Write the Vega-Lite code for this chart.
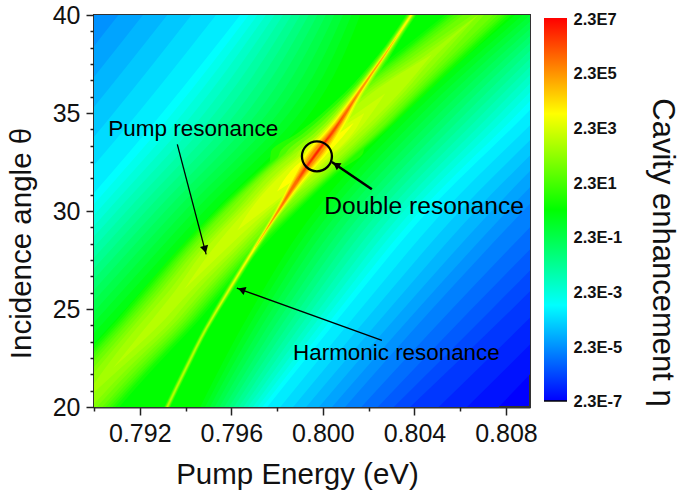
{"$schema":"https://vega.github.io/schema/vega-lite/v6.json","background":"white","padding":{"left":5,"top":2,"right":2,"bottom":0},"bounds":"flush","spacing":14,"config":{"font":"Liberation Sans","text":{"font":"Liberation Sans"}},
"datasets":{"field":[
{"f":"b","v":-6.75,"y":20,"a":0.775,"b":0.80768},{"f":"b","v":-6.75,"y":25,"a":0.775,"b":0.81179},{"f":"b","v":-6.75,"y":30,"a":0.775,"b":0.8159},{"f":"b","v":-6.75,"y":35,"a":0.775,"b":0.8207},{"f":"b","v":-6.75,"y":40,"a":0.775,"b":0.8249},
{"f":"b","v":-6.5,"y":20,"a":0.775,"b":0.8063},{"f":"b","v":-6.5,"y":25,"a":0.775,"b":0.8106},{"f":"b","v":-6.5,"y":30,"a":0.775,"b":0.8148},{"f":"b","v":-6.5,"y":35,"a":0.775,"b":0.8194},{"f":"b","v":-6.5,"y":40,"a":0.775,"b":0.8238},
{"f":"b","v":-6.25,"y":20,"a":0.775,"b":0.80506},{"f":"b","v":-6.25,"y":25,"a":0.775,"b":0.80944},{"f":"b","v":-6.25,"y":30,"a":0.775,"b":0.81368},{"f":"b","v":-6.25,"y":35,"a":0.775,"b":0.81815},{"f":"b","v":-6.25,"y":40,"a":0.775,"b":0.82255},
{"f":"b","v":-6,"y":20,"a":0.775,"b":0.80381},{"f":"b","v":-6,"y":25,"a":0.775,"b":0.80827},{"f":"b","v":-6,"y":30,"a":0.775,"b":0.81255},{"f":"b","v":-6,"y":35,"a":0.775,"b":0.8169},{"f":"b","v":-6,"y":40,"a":0.775,"b":0.8213},
{"f":"b","v":-5.75,"y":20,"a":0.775,"b":0.8031},{"f":"b","v":-5.75,"y":25,"a":0.775,"b":0.80739},{"f":"b","v":-5.75,"y":30,"a":0.775,"b":0.8116},{"f":"b","v":-5.75,"y":35,"a":0.775,"b":0.8159},{"f":"b","v":-5.75,"y":40,"a":0.775,"b":0.82032},
{"f":"b","v":-5.5,"y":20,"a":0.775,"b":0.8024},{"f":"b","v":-5.5,"y":25,"a":0.775,"b":0.8065},{"f":"b","v":-5.5,"y":30,"a":0.775,"b":0.8107},{"f":"b","v":-5.5,"y":35,"a":0.775,"b":0.8149},{"f":"b","v":-5.5,"y":40,"a":0.775,"b":0.8193},
{"f":"b","v":-5.25,"y":20,"a":0.775,"b":0.80168},{"f":"b","v":-5.25,"y":25,"a":0.775,"b":0.80564},{"f":"b","v":-5.25,"y":30,"a":0.775,"b":0.80973},{"f":"b","v":-5.25,"y":35,"a":0.775,"b":0.8139},{"f":"b","v":-5.25,"y":40,"a":0.775,"b":0.81833},
{"f":"b","v":-5,"y":20,"a":0.7759,"b":0.80097},{"f":"b","v":-5,"y":25,"a":0.77923,"b":0.80477},{"f":"b","v":-5,"y":30,"a":0.78307,"b":0.80875},{"f":"b","v":-5,"y":35,"a":0.78661,"b":0.8129},{"f":"b","v":-5,"y":40,"a":0.79001,"b":0.81735},
{"f":"b","v":-4.75,"y":20,"a":0.7769,"b":0.8004},{"f":"b","v":-4.75,"y":25,"a":0.78027,"b":0.80415},{"f":"b","v":-4.75,"y":30,"a":0.78411,"b":0.80806},{"f":"b","v":-4.75,"y":35,"a":0.78767,"b":0.81224},{"f":"b","v":-4.75,"y":40,"a":0.79107,"b":0.81662},
{"f":"b","v":-4.5,"y":20,"a":0.7779,"b":0.79983},{"f":"b","v":-4.5,"y":25,"a":0.78131,"b":0.80352},{"f":"b","v":-4.5,"y":30,"a":0.78515,"b":0.80737},{"f":"b","v":-4.5,"y":35,"a":0.78873,"b":0.81157},{"f":"b","v":-4.5,"y":40,"a":0.79214,"b":0.81589},
{"f":"b","v":-4.25,"y":20,"a":0.7789,"b":0.79927},{"f":"b","v":-4.25,"y":25,"a":0.78235,"b":0.8029},{"f":"b","v":-4.25,"y":30,"a":0.78619,"b":0.80667},{"f":"b","v":-4.25,"y":35,"a":0.78979,"b":0.81091},{"f":"b","v":-4.25,"y":40,"a":0.7932,"b":0.81517},
{"f":"b","v":-4,"y":20,"a":0.7799,"b":0.7987},{"f":"b","v":-4,"y":25,"a":0.78339,"b":0.80227},{"f":"b","v":-4,"y":30,"a":0.78723,"b":0.80598},{"f":"b","v":-4,"y":35,"a":0.79086,"b":0.81025},{"f":"b","v":-4,"y":40,"a":0.79426,"b":0.81444},
{"f":"b","v":-3.75,"y":20,"a":0.78094,"b":0.79814},{"f":"b","v":-3.75,"y":25,"a":0.78443,"b":0.80165},{"f":"b","v":-3.75,"y":30,"a":0.78827,"b":0.80529},{"f":"b","v":-3.75,"y":35,"a":0.79192,"b":0.80958},{"f":"b","v":-3.75,"y":40,"a":0.79533,"b":0.81371},
{"f":"b","v":-3.5,"y":20,"a":0.78198,"b":0.79757},{"f":"b","v":-3.5,"y":25,"a":0.78547,"b":0.80102},{"f":"b","v":-3.5,"y":30,"a":0.78931,"b":0.8046},{"f":"b","v":-3.5,"y":35,"a":0.79298,"b":0.80892},{"f":"b","v":-3.5,"y":40,"a":0.79639,"b":0.81298},
{"f":"b","v":-3.25,"y":20,"a":0.78237,"b":0.79736},{"f":"b","v":-3.25,"y":25,"a":0.78589,"b":0.80073},{"f":"b","v":-3.25,"y":30,"a":0.78973,"b":0.80425},{"f":"b","v":-3.25,"y":35,"a":0.79344,"b":0.80854},{"f":"b","v":-3.25,"y":40,"a":0.79676,"b":0.81265},
{"f":"b","v":-3,"y":20,"a":0.78277,"b":0.79715},{"f":"b","v":-3,"y":25,"a":0.78631,"b":0.80043},{"f":"b","v":-3,"y":30,"a":0.79016,"b":0.80389},{"f":"b","v":-3,"y":35,"a":0.7939,"b":0.80816},{"f":"b","v":-3,"y":40,"a":0.79714,"b":0.81233},
{"f":"b","v":-2.75,"y":20,"a":0.78316,"b":0.79694},{"f":"b","v":-2.75,"y":25,"a":0.78673,"b":0.80014},{"f":"b","v":-2.75,"y":30,"a":0.79058,"b":0.80354},{"f":"b","v":-2.75,"y":35,"a":0.79436,"b":0.80778},{"f":"b","v":-2.75,"y":40,"a":0.79751,"b":0.812},
{"f":"b","v":-2.5,"y":20,"a":0.78355,"b":0.79673},{"f":"b","v":-2.5,"y":25,"a":0.78715,"b":0.79985},{"f":"b","v":-2.5,"y":30,"a":0.791,"b":0.80319},{"f":"b","v":-2.5,"y":35,"a":0.79483,"b":0.8074},{"f":"b","v":-2.5,"y":40,"a":0.79789,"b":0.81167},
{"f":"b","v":-2.25,"y":20,"a":0.78395,"b":0.79653},{"f":"b","v":-2.25,"y":25,"a":0.78758,"b":0.79955},{"f":"b","v":-2.25,"y":30,"a":0.79143,"b":0.80284},{"f":"b","v":-2.25,"y":35,"a":0.79529,"b":0.80702},{"f":"b","v":-2.25,"y":40,"a":0.79826,"b":0.81134},
{"f":"b","v":-2,"y":20,"a":0.78434,"b":0.79632},{"f":"b","v":-2,"y":25,"a":0.788,"b":0.79926},{"f":"b","v":-2,"y":30,"a":0.79185,"b":0.80248},{"f":"b","v":-2,"y":35,"a":0.79575,"b":0.80664},{"f":"b","v":-2,"y":40,"a":0.79863,"b":0.81102},
{"f":"b","v":-1.75,"y":20,"a":0.78473,"b":0.79611},{"f":"b","v":-1.75,"y":25,"a":0.78842,"b":0.79897},{"f":"b","v":-1.75,"y":30,"a":0.79227,"b":0.80213},{"f":"b","v":-1.75,"y":35,"a":0.79621,"b":0.80626},{"f":"b","v":-1.75,"y":40,"a":0.79901,"b":0.81069},
{"f":"b","v":-1.5,"y":20,"a":0.78512,"b":0.7959},{"f":"b","v":-1.5,"y":25,"a":0.78884,"b":0.79867},{"f":"b","v":-1.5,"y":30,"a":0.7927,"b":0.80178},{"f":"b","v":-1.5,"y":35,"a":0.79667,"b":0.80587},{"f":"b","v":-1.5,"y":40,"a":0.79938,"b":0.81036},
{"f":"b","v":-1.25,"y":20,"a":0.78552,"b":0.79569},{"f":"b","v":-1.25,"y":25,"a":0.78926,"b":0.79838},{"f":"b","v":-1.25,"y":30,"a":0.79312,"b":0.80143},{"f":"b","v":-1.25,"y":35,"a":0.79713,"b":0.80549},{"f":"b","v":-1.25,"y":40,"a":0.79976,"b":0.81003},
{"f":"b","v":-1,"y":20,"a":0.78591,"b":0.79548},{"f":"b","v":-1,"y":25,"a":0.78968,"b":0.79808},{"f":"b","v":-1,"y":30,"a":0.79355,"b":0.80107},{"f":"b","v":-1,"y":35,"a":0.79759,"b":0.80511},{"f":"b","v":-1,"y":40,"a":0.80013,"b":0.80971},
{"f":"b","v":-0.75,"y":20,"a":0.7863,"b":0.79527},{"f":"b","v":-0.75,"y":25,"a":0.79011,"b":0.79779},{"f":"b","v":-0.75,"y":30,"a":0.79397,"b":0.80072},{"f":"b","v":-0.75,"y":35,"a":0.79806,"b":0.80473},{"f":"b","v":-0.75,"y":40,"a":0.8005,"b":0.80938},
{"f":"b","v":-0.5,"y":20,"a":0.7867,"b":0.79506},{"f":"b","v":-0.5,"y":25,"a":0.79053,"b":0.7975},{"f":"b","v":-0.5,"y":30,"a":0.79439,"b":0.80037},{"f":"b","v":-0.5,"y":35,"a":0.79852,"b":0.80435},{"f":"b","v":-0.5,"y":40,"a":0.80088,"b":0.80905},
{"f":"b","v":-0.25,"y":20,"a":0.78709,"b":0.79485},{"f":"b","v":-0.25,"y":25,"a":0.79095,"b":0.7972},{"f":"b","v":-0.25,"y":30,"a":0.79482,"b":0.80001},{"f":"b","v":-0.25,"y":35,"a":0.79898,"b":0.80397},{"f":"b","v":-0.25,"y":40,"a":0.80125,"b":0.80873},
{"f":"b","v":0,"y":20,"a":0.78748,"b":0.79464},{"f":"b","v":0,"y":25,"a":0.79137,"b":0.79691},{"f":"b","v":0,"y":30,"a":0.79525,"b":0.79966},{"f":"b","v":0,"y":35,"a":0.79945,"b":0.80359},{"f":"b","v":0,"y":40,"a":0.80163,"b":0.8084},
{"f":"p","v":0.25,"y":20,"a":0.78752,"b":0.7911},{"f":"p","v":0.25,"y":22,"a":0.78905,"b":0.79263},{"f":"p","v":0.25,"y":24,"a":0.79067,"b":0.79425},{"f":"p","v":0.25,"y":26,"a":0.79215,"b":0.79573},{"f":"p","v":0.25,"y":28,"a":0.79364,"b":0.79722},{"f":"p","v":0.25,"y":30,"a":0.7953,"b":0.79888},{"f":"p","v":0.25,"y":32,"a":0.79713,"b":0.80071},{"f":"p","v":0.25,"y":34,"a":0.7991,"b":0.80268},{"f":"p","v":0.25,"y":36,"a":0.80093,"b":0.80451},{"f":"p","v":0.25,"y":38,"a":0.80317,"b":0.80637},{"f":"p","v":0.25,"y":40,"a":0.80533,"b":0.80823},
{"f":"p","v":0.5,"y":20,"a":0.78769,"b":0.79093},{"f":"p","v":0.5,"y":22,"a":0.78922,"b":0.79246},{"f":"p","v":0.5,"y":24,"a":0.7908,"b":0.79412},{"f":"p","v":0.5,"y":26,"a":0.79228,"b":0.7956},{"f":"p","v":0.5,"y":28,"a":0.79377,"b":0.79709},{"f":"p","v":0.5,"y":30,"a":0.79539,"b":0.79879},{"f":"p","v":0.5,"y":32,"a":0.79722,"b":0.80062},{"f":"p","v":0.5,"y":34,"a":0.79919,"b":0.80259},{"f":"p","v":0.5,"y":36,"a":0.80106,"b":0.80438},{"f":"p","v":0.5,"y":38,"a":0.80333,"b":0.80621},{"f":"p","v":0.5,"y":40,"a":0.80547,"b":0.80809},
{"f":"h","v":0.5,"y":20,"a":0.79307,"b":0.79333},{"f":"h","v":0.5,"y":22,"a":0.7939,"b":0.79416},{"f":"h","v":0.5,"y":24,"a":0.79477,"b":0.79503},{"f":"h","v":0.5,"y":26,"a":0.79574,"b":0.79608},{"f":"h","v":0.5,"y":28,"a":0.79674,"b":0.79718},{"f":"h","v":0.5,"y":30,"a":0.79757,"b":0.79853},{"f":"h","v":0.5,"y":32,"a":0.79766,"b":0.80062},{"f":"h","v":0.5,"y":33,"a":0.79773,"b":0.80177},{"f":"h","v":0.5,"y":34,"a":0.79893,"b":0.80189},{"f":"h","v":0.5,"y":36,"a":0.80092,"b":0.80216},{"f":"h","v":0.5,"y":38,"a":0.80244,"b":0.803},{"f":"h","v":0.5,"y":40,"a":0.80364,"b":0.80408},
{"f":"p","v":0.75,"y":20,"a":0.78783,"b":0.7908},{"f":"p","v":0.75,"y":22,"a":0.78933,"b":0.79235},{"f":"p","v":0.75,"y":24,"a":0.79091,"b":0.79401},{"f":"p","v":0.75,"y":26,"a":0.79239,"b":0.79549},{"f":"p","v":0.75,"y":28,"a":0.79386,"b":0.797},{"f":"p","v":0.75,"y":30,"a":0.79548,"b":0.79871},{"f":"p","v":0.75,"y":32,"a":0.79729,"b":0.80056},{"f":"p","v":0.75,"y":34,"a":0.79926,"b":0.80253},{"f":"p","v":0.75,"y":36,"a":0.80115,"b":0.80429},{"f":"p","v":0.75,"y":38,"a":0.80344,"b":0.8061},{"f":"p","v":0.75,"y":40,"a":0.8056,"b":0.80796},
{"f":"p","v":1,"y":20,"a":0.78796,"b":0.79066},{"f":"p","v":1,"y":22,"a":0.78944,"b":0.79224},{"f":"p","v":1,"y":24,"a":0.79102,"b":0.7939},{"f":"p","v":1,"y":26,"a":0.7925,"b":0.79538},{"f":"p","v":1,"y":28,"a":0.79395,"b":0.79691},{"f":"p","v":1,"y":30,"a":0.79556,"b":0.79862},{"f":"p","v":1,"y":32,"a":0.79735,"b":0.80049},{"f":"p","v":1,"y":34,"a":0.79932,"b":0.80246},{"f":"p","v":1,"y":36,"a":0.80124,"b":0.8042},{"f":"p","v":1,"y":38,"a":0.80355,"b":0.80599},{"f":"p","v":1,"y":40,"a":0.80573,"b":0.80783},
{"f":"h","v":1,"y":20,"a":0.7931,"b":0.7933},{"f":"h","v":1,"y":22,"a":0.79393,"b":0.79413},{"f":"h","v":1,"y":24,"a":0.7948,"b":0.795},{"f":"h","v":1,"y":26,"a":0.79578,"b":0.79604},{"f":"h","v":1,"y":28,"a":0.79679,"b":0.79713},{"f":"h","v":1,"y":30,"a":0.79769,"b":0.79841},{"f":"h","v":1,"y":32,"a":0.79792,"b":0.80036},{"f":"h","v":1,"y":33,"a":0.79812,"b":0.80138},{"f":"h","v":1,"y":34,"a":0.79919,"b":0.80163},{"f":"h","v":1,"y":36,"a":0.80106,"b":0.80202},{"f":"h","v":1,"y":38,"a":0.8025,"b":0.80294},{"f":"h","v":1,"y":40,"a":0.80369,"b":0.80403},
{"f":"p","v":1.25,"y":20,"a":0.78811,"b":0.79051},{"f":"p","v":1.25,"y":22,"a":0.7896,"b":0.79209},{"f":"p","v":1.25,"y":24,"a":0.79115,"b":0.79377},{"f":"p","v":1.25,"y":26,"a":0.79263,"b":0.79525},{"f":"p","v":1.25,"y":28,"a":0.79406,"b":0.79681},{"f":"p","v":1.25,"y":30,"a":0.79565,"b":0.79853},{"f":"p","v":1.25,"y":32,"a":0.79742,"b":0.80043},{"f":"p","v":1.25,"y":34,"a":0.79941,"b":0.80238},{"f":"p","v":1.25,"y":36,"a":0.80135,"b":0.8041},{"f":"p","v":1.25,"y":38,"a":0.8037,"b":0.80584},{"f":"p","v":1.25,"y":40,"a":0.80593,"b":0.80764},
{"f":"p","v":1.5,"y":20,"a":0.78826,"b":0.79036},{"f":"p","v":1.5,"y":22,"a":0.78975,"b":0.79193},{"f":"p","v":1.5,"y":24,"a":0.79128,"b":0.79364},{"f":"p","v":1.5,"y":26,"a":0.79276,"b":0.79512},{"f":"p","v":1.5,"y":28,"a":0.79416,"b":0.7967},{"f":"p","v":1.5,"y":30,"a":0.79574,"b":0.79844},{"f":"p","v":1.5,"y":32,"a":0.79748,"b":0.80036},{"f":"p","v":1.5,"y":34,"a":0.79949,"b":0.80229},{"f":"p","v":1.5,"y":36,"a":0.80145,"b":0.80399},{"f":"p","v":1.5,"y":38,"a":0.80385,"b":0.80569},{"f":"p","v":1.5,"y":40,"a":0.80612,"b":0.80744},
{"f":"h","v":1.5,"y":20,"a":0.79313,"b":0.79327},{"f":"h","v":1.5,"y":22,"a":0.79396,"b":0.7941},{"f":"h","v":1.5,"y":24,"a":0.79483,"b":0.79497},{"f":"h","v":1.5,"y":26,"a":0.79581,"b":0.79601},{"f":"h","v":1.5,"y":28,"a":0.79683,"b":0.79709},{"f":"h","v":1.5,"y":30,"a":0.79776,"b":0.79834},{"f":"h","v":1.5,"y":32,"a":0.79818,"b":0.8001},{"f":"h","v":1.5,"y":33,"a":0.79841,"b":0.80109},{"f":"h","v":1.5,"y":34,"a":0.79945,"b":0.80137},{"f":"h","v":1.5,"y":36,"a":0.80118,"b":0.8019},{"f":"h","v":1.5,"y":38,"a":0.80255,"b":0.80289},{"f":"h","v":1.5,"y":40,"a":0.80373,"b":0.80399},
{"f":"p","v":1.75,"y":20,"a":0.7885,"b":0.79012},{"f":"p","v":1.75,"y":22,"a":0.78997,"b":0.79172},{"f":"p","v":1.75,"y":24,"a":0.79146,"b":0.79347},{"f":"p","v":1.75,"y":26,"a":0.79292,"b":0.79497},{"f":"p","v":1.75,"y":28,"a":0.79432,"b":0.79655},{"f":"p","v":1.75,"y":30,"a":0.79591,"b":0.79827},{"f":"p","v":1.75,"y":32,"a":0.79757,"b":0.80027},{"f":"p","v":1.75,"y":34,"a":0.79967,"b":0.80211},{"f":"p","v":1.75,"y":36,"a":0.80161,"b":0.80384},{"f":"p","v":1.75,"y":38,"a":0.80407,"b":0.80547},{"f":"p","v":1.75,"y":40,"a":0.80652,"b":0.80704},
{"f":"p","v":2,"y":20,"a":0.78874,"b":0.78988},{"f":"p","v":2,"y":22,"a":0.79018,"b":0.7915},{"f":"p","v":2,"y":24,"a":0.79163,"b":0.79329},{"f":"p","v":2,"y":26,"a":0.79307,"b":0.79481},{"f":"p","v":2,"y":28,"a":0.79447,"b":0.79639},{"f":"p","v":2,"y":30,"a":0.79613,"b":0.79805},{"f":"p","v":2,"y":32,"a":0.7977,"b":0.80014},{"f":"p","v":2,"y":34,"a":0.7998,"b":0.80198},{"f":"p","v":2,"y":36,"a":0.80176,"b":0.80368},{"f":"p","v":2,"y":38,"a":0.80429,"b":0.80525},{"f":"p","v":2,"y":40,"a":0.80678,"b":0.80678},
{"f":"h","v":2,"y":20,"a":0.79315,"b":0.79325},{"f":"h","v":2,"y":22,"a":0.79398,"b":0.79408},{"f":"h","v":2,"y":24,"a":0.79485,"b":0.79495},{"f":"h","v":2,"y":26,"a":0.79584,"b":0.79598},{"f":"h","v":2,"y":28,"a":0.79686,"b":0.79706},{"f":"h","v":2,"y":30,"a":0.79783,"b":0.79827},{"f":"h","v":2,"y":32,"a":0.7984,"b":0.79988},{"f":"h","v":2,"y":33,"a":0.79869,"b":0.80081},{"f":"h","v":2,"y":34,"a":0.79967,"b":0.80115},{"f":"h","v":2,"y":36,"a":0.80125,"b":0.80183},{"f":"h","v":2,"y":38,"a":0.80259,"b":0.80285},{"f":"h","v":2,"y":40,"a":0.80376,"b":0.80396},
{"f":"p","v":2.25,"y":20,"a":0.78931,"b":0.78931},{"f":"p","v":2.25,"y":22,"a":0.7905,"b":0.79118},{"f":"p","v":2.25,"y":24,"a":0.79185,"b":0.79307},{"f":"p","v":2.25,"y":26,"a":0.79333,"b":0.79455},{"f":"p","v":2.25,"y":28,"a":0.79465,"b":0.79621},{"f":"p","v":2.25,"y":30,"a":0.79626,"b":0.79792},{"f":"p","v":2.25,"y":32,"a":0.79783,"b":0.80001},{"f":"p","v":2.25,"y":34,"a":0.79993,"b":0.80185},{"f":"p","v":2.25,"y":36,"a":0.80194,"b":0.8035},{"f":"p","v":2.25,"y":38,"a":0.80455,"b":0.80499},{"f":"p","v":2.25,"y":40,"a":0.80678,"b":0.80678},
{"f":"p","v":2.5,"y":22,"a":0.79084,"b":0.79084},{"f":"p","v":2.5,"y":24,"a":0.79222,"b":0.7927},{"f":"p","v":2.5,"y":26,"a":0.79359,"b":0.79429},{"f":"p","v":2.5,"y":28,"a":0.79482,"b":0.79604},{"f":"p","v":2.5,"y":30,"a":0.79643,"b":0.79775},{"f":"p","v":2.5,"y":32,"a":0.79805,"b":0.79979},{"f":"p","v":2.5,"y":34,"a":0.80015,"b":0.80163},{"f":"p","v":2.5,"y":36,"a":0.80211,"b":0.80333},{"f":"p","v":2.5,"y":38,"a":0.80477,"b":0.80477},
{"f":"h","v":2.5,"y":20,"a":0.79317,"b":0.79323},{"f":"h","v":2.5,"y":22,"a":0.794,"b":0.79406},{"f":"h","v":2.5,"y":24,"a":0.79487,"b":0.79493},{"f":"h","v":2.5,"y":26,"a":0.79586,"b":0.79596},{"f":"h","v":2.5,"y":28,"a":0.79689,"b":0.79703},{"f":"h","v":2.5,"y":30,"a":0.79788,"b":0.79822},{"f":"h","v":2.5,"y":32,"a":0.79858,"b":0.7997},{"f":"h","v":2.5,"y":33,"a":0.79894,"b":0.80056},{"f":"h","v":2.5,"y":34,"a":0.79985,"b":0.80097},{"f":"h","v":2.5,"y":36,"a":0.80132,"b":0.80176},{"f":"h","v":2.5,"y":38,"a":0.80262,"b":0.80282},{"f":"h","v":2.5,"y":40,"a":0.80379,"b":0.80393},
{"f":"p","v":2.75,"y":26,"a":0.79394,"b":0.79394},{"f":"p","v":2.75,"y":28,"a":0.79515,"b":0.79571},{"f":"p","v":2.75,"y":30,"a":0.79661,"b":0.79757},{"f":"p","v":2.75,"y":32,"a":0.79818,"b":0.79966},{"f":"p","v":2.75,"y":34,"a":0.80032,"b":0.80146},{"f":"p","v":2.75,"y":36,"a":0.80272,"b":0.80272},
{"f":"p","v":3,"y":29,"a":0.79626,"b":0.79626},{"f":"p","v":3,"y":30,"a":0.79679,"b":0.79739},{"f":"p","v":3,"y":32,"a":0.79832,"b":0.79952},{"f":"p","v":3,"y":34,"a":0.80045,"b":0.80133},{"f":"p","v":3,"y":35,"a":0.80181,"b":0.80181},
{"f":"h","v":3,"y":24,"a":0.7949,"b":0.7949},{"f":"h","v":3,"y":26,"a":0.79588,"b":0.79594},{"f":"h","v":3,"y":28,"a":0.79691,"b":0.79701},{"f":"h","v":3,"y":30,"a":0.79792,"b":0.79818},{"f":"h","v":3,"y":32,"a":0.7987,"b":0.79958},{"f":"h","v":3,"y":33,"a":0.79913,"b":0.80037},{"f":"h","v":3,"y":34,"a":0.79997,"b":0.80085},{"f":"h","v":3,"y":36,"a":0.80137,"b":0.80171},{"f":"h","v":3,"y":38,"a":0.80265,"b":0.80279},{"f":"h","v":3,"y":40,"a":0.80381,"b":0.80391},
{"f":"p","v":3.5,"y":31,"a":0.798,"b":0.798},{"f":"p","v":3.5,"y":32,"a":0.79857,"b":0.79927},{"f":"p","v":3.5,"y":34,"a":0.80076,"b":0.80102},{"f":"p","v":3.5,"y":34.5,"a":0.80135,"b":0.80135},
{"f":"h","v":3.5,"y":26,"a":0.79591,"b":0.79591},{"f":"h","v":3.5,"y":28,"a":0.79693,"b":0.79699},{"f":"h","v":3.5,"y":30,"a":0.79796,"b":0.79814},{"f":"h","v":3.5,"y":32,"a":0.7988,"b":0.79948},{"f":"h","v":3.5,"y":33,"a":0.79927,"b":0.80023},{"f":"h","v":3.5,"y":34,"a":0.80007,"b":0.80075},{"f":"h","v":3.5,"y":36,"a":0.80141,"b":0.80167},{"f":"h","v":3.5,"y":38,"a":0.80267,"b":0.80277},{"f":"h","v":3.5,"y":40,"a":0.80383,"b":0.80389},
{"f":"h","v":4,"y":28,"a":0.79696,"b":0.79696},{"f":"h","v":4,"y":30,"a":0.79798,"b":0.79812},{"f":"h","v":4,"y":32,"a":0.79888,"b":0.7994},{"f":"h","v":4,"y":33,"a":0.79938,"b":0.80012},{"f":"h","v":4,"y":34,"a":0.80015,"b":0.80067},{"f":"h","v":4,"y":36,"a":0.80145,"b":0.80163},{"f":"h","v":4,"y":38,"a":0.80269,"b":0.80275},{"f":"h","v":4,"y":40,"a":0.80386,"b":0.80386},
{"f":"h","v":4.5,"y":28,"a":0.79696,"b":0.79696},{"f":"h","v":4.5,"y":30,"a":0.79799,"b":0.79811},{"f":"h","v":4.5,"y":32,"a":0.79894,"b":0.79934},{"f":"h","v":4.5,"y":33,"a":0.79946,"b":0.80004},{"f":"h","v":4.5,"y":34,"a":0.80021,"b":0.80061},{"f":"h","v":4.5,"y":36,"a":0.80147,"b":0.80161},{"f":"h","v":4.5,"y":38,"a":0.80269,"b":0.80275},{"f":"h","v":4.5,"y":39,"a":0.80329,"b":0.80329},
{"f":"h","v":5,"y":29,"a":0.7975,"b":0.7975},{"f":"h","v":5,"y":30,"a":0.79801,"b":0.79809},{"f":"h","v":5,"y":32,"a":0.799,"b":0.79928},{"f":"h","v":5,"y":33,"a":0.79953,"b":0.79997},{"f":"h","v":5,"y":34,"a":0.80027,"b":0.80055},{"f":"h","v":5,"y":36,"a":0.8015,"b":0.80158},{"f":"h","v":5,"y":38,"a":0.80272,"b":0.80272},
{"f":"h","v":5.5,"y":30,"a":0.79805,"b":0.79805},{"f":"h","v":5.5,"y":32,"a":0.79905,"b":0.79923},{"f":"h","v":5.5,"y":33,"a":0.79965,"b":0.79985},{"f":"h","v":5.5,"y":34,"a":0.80032,"b":0.8005},{"f":"h","v":5.5,"y":36,"a":0.80154,"b":0.80154},
{"f":"h","v":6,"y":31.5,"a":0.79887,"b":0.79887},{"f":"h","v":6,"y":32,"a":0.79909,"b":0.79919},{"f":"h","v":6,"y":33,"a":0.79968,"b":0.79982},{"f":"h","v":6,"y":34,"a":0.80036,"b":0.80046},{"f":"h","v":6,"y":35,"a":0.80097,"b":0.80097},
{"f":"h","v":6.5,"y":32,"a":0.79914,"b":0.79914},{"f":"h","v":6.5,"y":33,"a":0.79971,"b":0.79979},{"f":"h","v":6.5,"y":34,"a":0.80041,"b":0.80041}
]},
"hconcat":[
{"width":436,"height":392,"view":{"fill":"#0000ff","stroke":"#333333","strokeWidth":2},
"resolve":{"axis":{"x":"independent","y":"independent"}},
"layer":[
{"data":{"name":"field"},"mark":{"type":"area","orient":"horizontal","clip":true,"interpolate":"monotone"},
"encoding":{
"x":{"field":"a","type":"quantitative","scale":{"domain":[0.79,0.80905],"nice":false,"zero":false},"axis":{"orient":"bottom","values":[0.792,0.796,0.8,0.804,0.808],"format":".3f","title":"Pump Energy (eV)","titleX":203,"grid":false,"tickSize":8,"tickWidth":1.5,"tickColor":"#222222","domainColor":"#333333","domainWidth":2,"labelFontSize":25,"labelColor":"#111111","labelPadding":6,"titleFontSize":29.5,"titleFontWeight":"normal","titleColor":"#111111","titlePadding":14,"labelFont":"Liberation Sans","titleFont":"Liberation Sans"}},
"x2":{"field":"b"},
"y":{"field":"y","type":"quantitative","scale":{"domain":[20,40],"nice":false,"zero":false},"axis":{"orient":"left","values":[20,25,30,35,40],"title":"Incidence angle θ","titleY":228,"grid":false,"tickSize":8,"tickWidth":1.5,"tickColor":"#222222","domainColor":"#333333","domainWidth":2,"labelFontSize":25,"labelColor":"#111111","labelPadding":6,"titleFontSize":29.5,"titleFontWeight":"normal","titleColor":"#111111","titlePadding":16,"labelFont":"Liberation Sans","titleFont":"Liberation Sans"}},
"color":{"field":"v","type":"quantitative","legend":null,"scale":{"domain":[-7,-3.5,0,3.5,7],"range":["#0000ff","#00ffff","#00ff00","#ffff00","#ff0000"],"interpolate":"rgb"}},
"detail":[{"field":"f"},{"field":"v"}]}},
{"data":{"values":[{"a":"pump","x":0.79364,"y":33.4},{"a":"pump","x":0.7949,"y":27.79},{"a":"harmonic","x":0.80258,"y":23.4},{"a":"harmonic","x":0.79624,"y":26.07}]},
"mark":{"type":"line","color":"black","strokeWidth":1.3},
"encoding":{
"x":{"field":"x","type":"quantitative","axis":{"orient":"bottom","values":[0.79,0.794,0.798,0.802,0.806],"labels":false,"title":null,"grid":false,"domain":false,"tickSize":4,"tickWidth":1.5,"tickColor":"#222222"}},
"y":{"field":"y","type":"quantitative","axis":{"orient":"left","values":[20.833,21.667,22.5,23.333,24.167,25.833,26.667,27.5,28.333,29.167,30.833,31.667,32.5,33.333,34.167,35.833,36.667,37.5,38.333,39.167],"labels":false,"title":null,"grid":false,"domain":false,"tickSize":4,"tickWidth":1.5,"tickColor":"#222222"}},
"detail":{"field":"a"}}},
{"data":{"values":[{"x":0.80214,"y":31.11},{"x":0.80039,"y":32.5}]},"mark":{"type":"line","color":"black","strokeWidth":2.6},"encoding":{"x":{"field":"x","type":"quantitative","axis":null},"y":{"field":"y","type":"quantitative","axis":null}}},
{"data":{"values":[{"x":0.79485,"y":28.04,"dir":165,"w":"thin"},{"x":0.79645,"y":25.98,"dir":290,"w":"thin"},{"x":0.80058,"y":32.36,"dir":304,"w":"thick"}]},
"mark":{"type":"point","shape":"triangle-up","filled":true,"color":"black","opacity":1,"size":70},
"encoding":{"x":{"field":"x","type":"quantitative","axis":null},"y":{"field":"y","type":"quantitative","axis":null},"angle":{"field":"dir","type":"quantitative","scale":null}}},
{"data":{"values":[{"x":0.79974,"y":32.79}]},"mark":{"type":"point","shape":"circle","filled":false,"color":"black","opacity":1,"size":900,"strokeWidth":2.3},
"encoding":{"x":{"field":"x","type":"quantitative","axis":null},"y":{"field":"y","type":"quantitative","axis":null}}},
{"data":{"values":[{"x":0.79062,"y":34.17,"t":"Pump resonance","s":22.5},{"x":0.80006,"y":30.19,"t":"Double resonance","s":24.6},{"x":0.7987,"y":22.74,"t":"Harmonic resonance","s":22.4}]},
"mark":{"type":"text","align":"left","baseline":"middle","color":"black","font":"Liberation Sans"},
"encoding":{"x":{"field":"x","type":"quantitative","axis":null},"y":{"field":"y","type":"quantitative","axis":null},"text":{"field":"t"},"size":{"field":"s","type":"quantitative","scale":null,"legend":null}}}
]},
{"width":23,"height":392,"view":{"stroke":null},
"layer":[
{"data":{"values":[{"lo":-7,"hi":7}]},
"mark":{"type":"rect","color":{"gradient":"linear","x1":0,"y1":1,"x2":0,"y2":0,"stops":[{"offset":0,"color":"#0000ff"},{"offset":0.25,"color":"#00ffff"},{"offset":0.5,"color":"#00ff00"},{"offset":0.75,"color":"#ffff00"},{"offset":1,"color":"#ff0000"}]}},
"encoding":{"y":{"field":"lo","type":"quantitative","scale":{"domain":[-7.22,7.11],"nice":false,"zero":false},
"axis":{"orient":"right","values":[-7,-5,-3,-1,1,3,5,7],"labelExpr":"'2.3E'+datum.value","domain":false,"ticks":false,"grid":false,"labelFontSize":16.5,"labelFontWeight":"bold","labelColor":"#111111","labelPadding":6,"labelFont":"Liberation Sans","labelOffset":1,"title":"Cavity enhancement η","titleY":237,"titleAngle":90,"titleFontSize":31,"titleFontWeight":"normal","titleColor":"#111111","titlePadding":24,"titleFont":"Liberation Sans"}},
"y2":{"field":"hi"}}},
{"data":{"values":[{"lo":-7}]},"mark":{"type":"rule","color":"black","strokeWidth":1.5},"encoding":{"y":{"field":"lo","type":"quantitative"}}}
]}
]}
